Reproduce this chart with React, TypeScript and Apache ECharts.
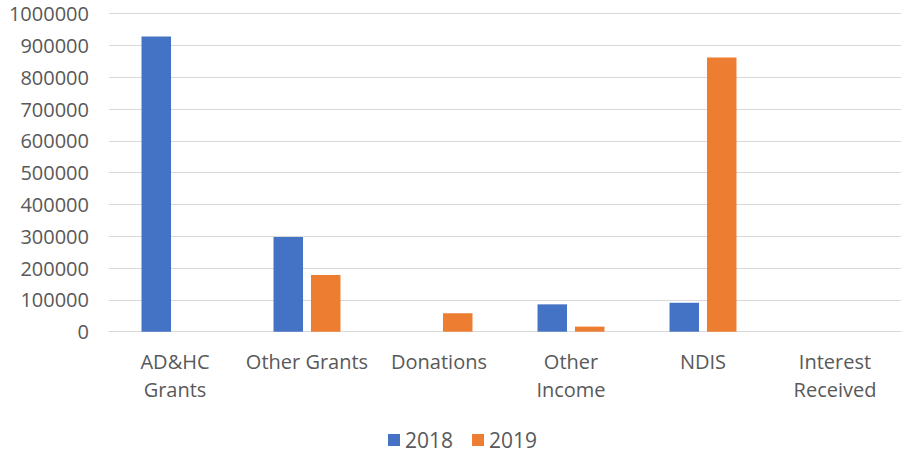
import React, { useEffect, useRef } from "react";
import * as echarts from "echarts";

const categories = ["AD&HC Grants", "Other Grants", "Donations", "Other Income", "NDIS", "Interest Received"];
const categoryLabels = ["AD&HC\nGrants", "Other Grants", "Donations", "Other\nIncome", "NDIS", "Interest\nReceived"];
const seriesNames = ["2018", "2019"];
const values2018 = [928000, 298000, 0, 86000, 91000, 0];
const values2019 = [0, 178000, 58000, 16000, 862000, 0];
const yTicks = { min: 0, max: 1000000, interval: 100000 };

const FONT = "'Open Sans', sans-serif";
const TEXT = "#595959";

export default function App() {
  const ref = useRef<HTMLDivElement>(null);
  useEffect(() => {
    if (!ref.current) return;
    const chart = echarts.init(ref.current, undefined, { renderer: "svg" });
    chart.setOption({
      animation: false,
      textStyle: { fontFamily: FONT },
      grid: { left: 109, right: 1, top: 13.7, bottom: 122.3, containLabel: false },
      legend: {
        top: 428,
        left: 388,
        padding: 0,
        itemWidth: 12,
        itemHeight: 12,
        itemGap: 19,
        icon: "rect",
        textStyle: { fontFamily: FONT, fontSize: 21, lineHeight: 24, color: TEXT },
        data: seriesNames,
      },
      xAxis: {
        type: "category",
        data: categories,
        axisLine: { lineStyle: { color: "#D9D9D9", width: 1 } },
        axisTick: { show: false },
        axisLabel: {
          interval: 0,
          margin: 16,
          fontFamily: FONT,
          fontSize: 20,
          lineHeight: 28,
          color: TEXT,
          formatter: (_v: string, i: number) => categoryLabels[i],
        },
      },
      yAxis: {
        type: "value",
        min: yTicks.min,
        max: yTicks.max,
        interval: yTicks.interval,
        axisLine: { show: false },
        axisTick: { show: false },
        splitLine: { lineStyle: { color: "#D9D9D9", width: 1 } },
        axisLabel: {
          margin: 20,
          fontFamily: FONT,
          fontSize: 20,
          color: TEXT,
          formatter: (v: number) => String(v),
        },
      },
      series: [
        {
          name: seriesNames[0],
          type: "bar",
          data: values2018,
          itemStyle: { color: "#4472C4" },
          barWidth: 29.5,
          barGap: "27%",
        },
        {
          name: seriesNames[1],
          type: "bar",
          data: values2019,
          itemStyle: { color: "#ED7D31" },
          barWidth: 29.5,
          barGap: "27%",
        },
      ],
    });
    return () => chart.dispose();
  }, []);
  return (
    <div
      ref={ref}
      style={{ position: "absolute", left: 0, top: 0, width: 902, height: 454, background: "#fff" }}
    />
  );
}
